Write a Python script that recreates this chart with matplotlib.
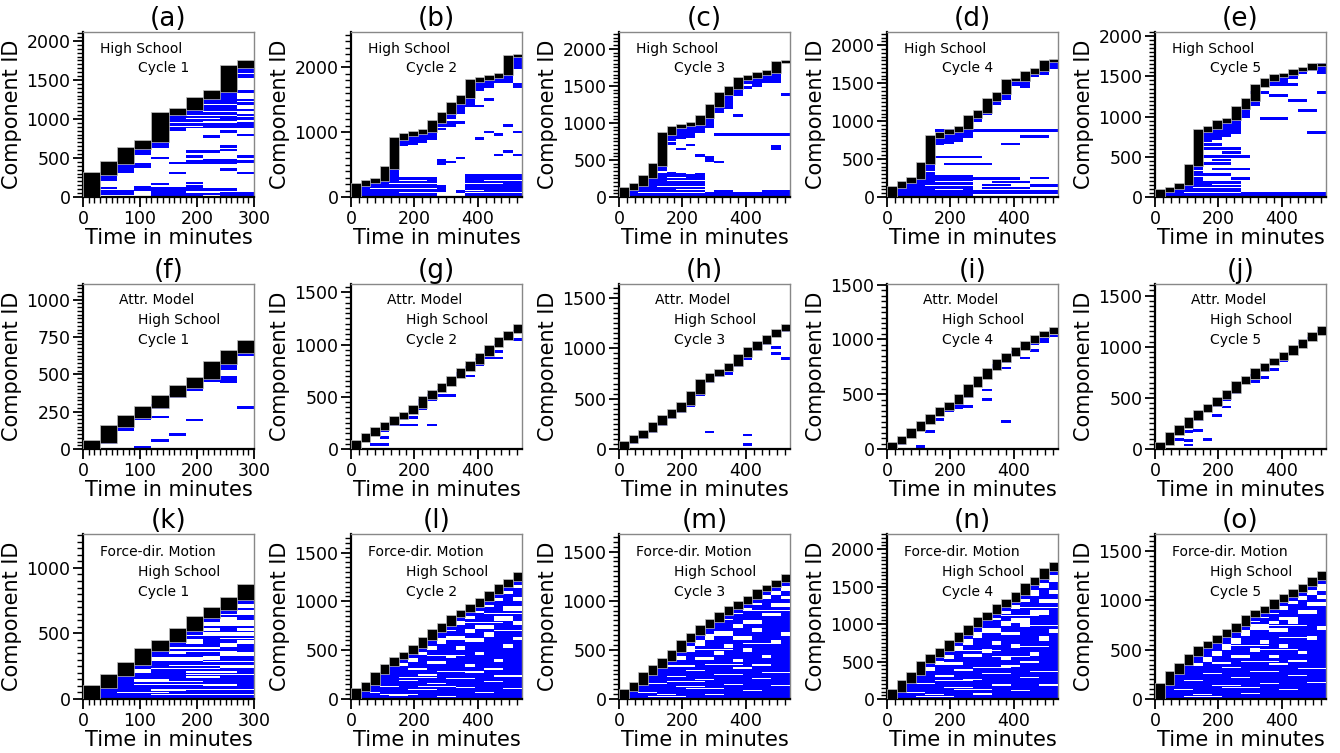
import matplotlib
matplotlib.use("Agg")
import matplotlib.pyplot as plt
from matplotlib.patches import Rectangle
from matplotlib.ticker import MultipleLocator

BIN = 30  # minutes per time bin

# cumulative component count at the end of every 30-minute bin (top of black block)
tops_a = [305, 440, 626, 716, 1069, 1129, 1270, 1359, 1674, 1738]
tops_b = [191, 238, 269, 450, 904, 961, 992, 1023, 1168, 1292, 1447, 1550, 1798, 1824, 1855, 1897, 2171, 2186]
tops_c = [111, 165, 276, 441, 855, 944, 971, 989, 1087, 1238, 1399, 1479, 1599, 1630, 1670, 1697, 1822, 1826]
tops_d = [131, 197, 249, 446, 801, 845, 875, 919, 1063, 1129, 1282, 1370, 1540, 1549, 1637, 1680, 1794, 1807]
tops_e = [82, 114, 163, 396, 824, 865, 939, 971, 1114, 1212, 1388, 1461, 1514, 1531, 1580, 1600, 1649, 1657]
tops_f = [52, 153, 216, 281, 355, 420, 476, 580, 652, 724]
tops_g = [75, 140, 195, 245, 300, 345, 405, 490, 555, 615, 690, 760, 830, 905, 985, 1060, 1120, 1185]
tops_h = [70, 125, 180, 250, 320, 385, 450, 560, 680, 740, 785, 840, 930, 1000, 1060, 1120, 1180, 1230]
tops_i = [55, 110, 180, 240, 310, 370, 420, 490, 580, 650, 730, 810, 865, 915, 975, 1030, 1065, 1100]
tops_j = [55, 150, 220, 300, 370, 430, 500, 560, 650, 700, 780, 830, 880, 935, 1000, 1065, 1130, 1190]
tops_k = [94, 182, 271, 375, 443, 532, 625, 691, 765, 868]
tops_l = [100, 160, 265, 350, 420, 470, 540, 620, 700, 760, 850, 900, 960, 1020, 1090, 1160, 1220, 1285]
tops_m = [90, 160, 260, 330, 400, 490, 590, 660, 740, 800, 870, 930, 980, 1030, 1110, 1150, 1200, 1260]
tops_n = [110, 230, 340, 495, 584, 664, 774, 872, 973, 1075, 1150, 1248, 1319, 1407, 1535, 1615, 1726, 1814]
tops_o = [152, 270, 354, 448, 529, 580, 640, 698, 758, 843, 887, 927, 1001, 1051, 1102, 1156, 1223, 1281]

# returning components: (first bin, last bin, lowest ID, highest ID)
blue_a = [(1, 1, 220, 300), (1, 1, 115, 115), (1, 1, 72, 72), (1, 1, 45, 45),
          (2, 2, 330, 440), (2, 2, 390, 390), (2, 2, 72, 72), (2, 2, 38, 38),
          (3, 3, 550, 626), (3, 3, 420, 420), (3, 3, 390, 390), (3, 3, 128, 128), (3, 3, 94, 94),
          (4, 4, 650, 716), (4, 4, 500, 500), (4, 4, 166, 166), (4, 4, 0, 115),
          (5, 5, 860, 1069), (5, 5, 435, 435), (5, 5, 307, 307), (5, 5, 106, 106), (5, 5, 30, 72),
          (6, 6, 900, 1129), (6, 6, 583, 583), (6, 6, 520, 520), (6, 6, 440, 460), (6, 6, 180, 180),
          (6, 6, 136, 136), (6, 6, 94, 94), (6, 6, 30, 30),
          (7, 7, 1115, 1270), (7, 7, 900, 1070), (7, 7, 775, 775), (7, 7, 583, 583), (7, 7, 435, 464),
          (7, 7, 94, 94), (7, 7, 38, 38),
          (8, 8, 1115, 1350), (8, 8, 900, 1070), (8, 8, 840, 840), (8, 8, 647, 647), (8, 8, 604, 604),
          (8, 8, 435, 475), (8, 8, 350, 350), (8, 8, 94, 94), (8, 8, 10, 50),
          (9, 9, 1540, 1650), (9, 9, 1350, 1350), (9, 9, 1245, 1245), (9, 9, 1200, 1200), (9, 9, 1115, 1115),
          (9, 9, 1050, 1050), (9, 9, 1010, 1010), (9, 9, 945, 945), (9, 9, 900, 900), (9, 9, 796, 796),
          (9, 9, 520, 520), (9, 9, 456, 456), (9, 9, 307, 307), (9, 9, 10, 50)]
blue_b = [(1, 1, 0, 185), (2, 2, 0, 232), (3, 3, 0, 262), (4, 4, 0, 300), (4, 4, 320, 440),
          (5, 8, 0, 120), (5, 8, 135, 290), (5, 5, 800, 900), (6, 6, 820, 955), (7, 7, 850, 985),
          (8, 8, 900, 1015), (9, 9, 1100, 1165), (9, 9, 1050, 1050), (9, 9, 560, 560), (9, 9, 520, 520),
          (9, 9, 90, 165), (10, 10, 1220, 1285), (10, 10, 1150, 1150), (10, 10, 1100, 1100), (10, 10, 540, 540),
          (11, 11, 1300, 1440), (11, 11, 1150, 1150), (11, 11, 600, 600), (11, 11, 80, 80),
          (12, 12, 1400, 1545), (12, 17, 0, 150), (12, 17, 170, 330), (13, 13, 1650, 1780), (13, 13, 1400, 1400),
          (13, 13, 900, 900), (14, 14, 1700, 1810), (14, 14, 1500, 1500), (14, 14, 1000, 1000),
          (15, 15, 1780, 1850), (15, 15, 960, 960), (15, 15, 650, 650), (16, 16, 1780, 1890), (16, 16, 1100, 1100),
          (16, 16, 700, 700), (17, 17, 2000, 2150), (17, 17, 1730, 1730), (17, 17, 1700, 1700),
          (17, 17, 1000, 1000), (17, 17, 650, 650)]
blue_c = [(1, 1, 0, 108), (2, 2, 0, 160), (3, 3, 0, 270), (4, 4, 0, 440), (5, 5, 0, 320), (6, 6, 0, 300),
          (7, 7, 0, 290), (8, 8, 0, 300), (5, 5, 780, 855), (6, 6, 800, 940), (7, 7, 820, 970), (8, 8, 880, 985),
          (9, 9, 950, 1085), (10, 10, 1150, 1235), (11, 11, 1200, 1395), (12, 12, 1380, 1475),
          (13, 13, 1540, 1595), (14, 14, 1530, 1625), (15, 15, 1550, 1665), (16, 16, 1560, 1690),
          (5, 5, 720, 720), (6, 6, 650, 650), (7, 7, 700, 700), (8, 8, 560, 560), (10, 17, 842, 842),
          (9, 9, 490, 540), (10, 10, 470, 470), (12, 12, 1100, 1100), (11, 11, 1200, 1200),
          (17, 17, 1380, 1380), (16, 16, 650, 680), (13, 13, 1480, 1480), (14, 14, 1500, 1500),
          (9, 17, 20, 45), (10, 11, 70, 70), (15, 17, 80, 80)]
blue_d = [(1, 1, 0, 128), (2, 2, 0, 195), (3, 3, 0, 245), (4, 4, 0, 260), (4, 4, 280, 440),
          (5, 8, 0, 130), (5, 8, 150, 270), (5, 5, 700, 790), (6, 6, 720, 840), (7, 7, 740, 870), (8, 8, 800, 915),
          (9, 9, 1000, 1060), (10, 10, 1100, 1125), (11, 11, 1230, 1280), (12, 12, 1300, 1365),
          (13, 13, 1480, 1540), (14, 14, 1450, 1545), (15, 15, 1600, 1635), (16, 16, 1620, 1675),
          (17, 17, 1700, 1790), (5, 17, 875, 875), (5, 9, 525, 525), (6, 10, 437, 437),
          (9, 17, 60, 70), (10, 14, 120, 120), (10, 12, 160, 160), (11, 14, 200, 200), (9, 13, 240, 240),
          (15, 17, 150, 150), (15, 16, 250, 250), (12, 13, 700, 700), (14, 16, 800, 800)]
blue_e = [(1, 1, 0, 80), (2, 2, 0, 112), (3, 3, 0, 160), (4, 4, 0, 390), (5, 8, 0, 180),
          (5, 5, 700, 820), (6, 6, 720, 860), (7, 7, 760, 935), (8, 8, 800, 965), (9, 9, 1000, 1110),
          (10, 10, 1150, 1210), (11, 11, 1380, 1385), (12, 12, 1400, 1460), (13, 13, 1440, 1510),
          (14, 14, 1480, 1530), (15, 15, 1550, 1578), (16, 16, 1580, 1598), (17, 17, 1550, 1645),
          (5, 8, 600, 600), (5, 9, 500, 500), (5, 7, 420, 420), (6, 9, 350, 350), (9, 17, 20, 40),
          (5, 6, 650, 650), (7, 8, 550, 550), (5, 7, 280, 280), (8, 9, 230, 230), (6, 7, 460, 460),
          (11, 13, 980, 980), (14, 15, 1200, 1200), (16, 17, 800, 800), (12, 13, 1260, 1260),
          (10, 11, 1300, 1300), (13, 14, 1400, 1400), (15, 16, 1080, 1080), (17, 17, 1300, 1300)]
blue_f = [(1, 1, 45, 45), (2, 2, 130, 150), (3, 3, 200, 215), (3, 3, 10, 10), (4, 4, 280, 290),
          (4, 4, 215, 215), (4, 4, 55, 55), (5, 5, 350, 360), (5, 5, 95, 95), (6, 6, 400, 415),
          (6, 6, 195, 195), (7, 7, 460, 470), (8, 8, 540, 580), (8, 8, 480, 480), (8, 8, 450, 470),
          (9, 9, 630, 645), (9, 9, 280, 280)]
blue_g = [(2, 2, 140, 140), (2, 3, 45, 45), (3, 3, 180, 180), (3, 3, 110, 110), (4, 4, 230, 240),
          (5, 5, 290, 290), (5, 6, 230, 230), (6, 6, 350, 350), (6, 6, 300, 300), (7, 7, 420, 470),
          (7, 7, 390, 390), (8, 8, 510, 510), (8, 8, 470, 470), (8, 8, 230, 230), (9, 9, 560, 560),
          (9, 10, 510, 510), (10, 10, 620, 620), (11, 11, 690, 720), (12, 12, 780, 780), (12, 12, 700, 700),
          (13, 13, 860, 860), (13, 13, 810, 810), (14, 14, 910, 930), (14, 15, 870, 870),
          (15, 15, 990, 990), (15, 15, 930, 930), (16, 16, 1060, 1060), (17, 17, 1130, 1130),
          (17, 17, 1050, 1050)]
blue_h = [(1, 1, 60, 60), (2, 2, 110, 120), (3, 3, 170, 175), (4, 4, 240, 245), (5, 5, 310, 315),
          (6, 6, 375, 380), (7, 7, 430, 445), (8, 8, 540, 555), (9, 9, 670, 675), (9, 9, 170, 170),
          (10, 10, 730, 735), (11, 11, 750, 750), (12, 12, 830, 835), (13, 13, 900, 920),
          (13, 13, 140, 140), (13, 13, 45, 45), (14, 14, 990, 995), (15, 15, 1050, 1055),
          (16, 16, 1010, 1010), (16, 16, 950, 950), (17, 17, 1170, 1175), (17, 17, 900, 900)]
blue_i = [(1, 1, 45, 55), (3, 3, 20, 20), (4, 4, 240, 240), (4, 4, 160, 160), (5, 5, 270, 270),
          (6, 6, 350, 350), (7, 7, 400, 400), (7, 7, 380, 380), (8, 8, 480, 480), (8, 8, 390, 390),
          (9, 9, 575, 580), (10, 10, 540, 540), (10, 10, 450, 450), (11, 11, 740, 760), (12, 12, 800, 800),
          (12, 12, 740, 740), (12, 12, 250, 250), (13, 13, 860, 880), (14, 14, 920, 920), (14, 14, 830, 830),
          (15, 15, 960, 960), (15, 15, 900, 900), (16, 16, 1000, 1000), (16, 16, 980, 980),
          (17, 17, 1070, 1070), (17, 17, 1030, 1030)]
blue_j = [(1, 1, 50, 50), (2, 2, 150, 150), (2, 2, 90, 90), (3, 3, 220, 220), (3, 3, 170, 170),
          (3, 3, 80, 80), (3, 3, 40, 40), (4, 4, 290, 290), (4, 4, 180, 180), (5, 5, 90, 90),
          (6, 6, 420, 420), (6, 6, 330, 330), (7, 7, 480, 480), (7, 7, 410, 410), (8, 8, 550, 550),
          (10, 10, 720, 720), (10, 10, 660, 660), (11, 11, 770, 770), (11, 11, 700, 700), (12, 12, 780, 780),
          (13, 13, 860, 860), (14, 14, 940, 940), (15, 15, 1040, 1040), (16, 16, 1080, 1080),
          (17, 17, 1150, 1150)]
blue_k = [(1, 1, 0, 90), (2, 2, 0, 170), (3, 3, 0, 265), (4, 4, 0, 370), (5, 5, 0, 440), (6, 6, 0, 530),
          (7, 7, 0, 620), (8, 8, 0, 690), (9, 9, 0, 760)]
blue_l = [(1, 1, 0, 95), (2, 2, 0, 155), (3, 3, 0, 260), (4, 4, 0, 345), (5, 5, 0, 415), (6, 6, 0, 465),
          (7, 7, 0, 535), (8, 8, 0, 615), (9, 9, 0, 695), (10, 10, 0, 755), (11, 11, 0, 845), (12, 12, 0, 895),
          (13, 13, 0, 955), (14, 14, 0, 1015), (15, 15, 0, 1085), (16, 16, 0, 1155), (17, 17, 0, 1215)]
blue_m = [(1, 1, 0, 85), (2, 2, 0, 155), (3, 3, 0, 255), (4, 4, 0, 325), (5, 5, 0, 395), (6, 6, 0, 485),
          (7, 7, 0, 585), (8, 8, 0, 655), (9, 9, 0, 735), (10, 10, 0, 795), (11, 11, 0, 865), (12, 12, 0, 925),
          (13, 13, 0, 975), (14, 14, 0, 1025), (15, 15, 0, 1105), (16, 16, 0, 1145), (17, 17, 0, 1195)]
blue_n = [(1, 1, 0, 105), (2, 2, 0, 225), (3, 3, 0, 335), (4, 4, 0, 490), (5, 5, 0, 580), (6, 6, 0, 660),
          (7, 7, 0, 770), (8, 8, 0, 868), (9, 9, 0, 968), (10, 10, 0, 1070), (11, 11, 0, 1145),
          (12, 12, 0, 1243), (13, 13, 0, 1315), (14, 14, 0, 1400), (15, 15, 0, 1530), (16, 16, 0, 1610),
          (17, 17, 0, 1720)]
blue_o = [(1, 1, 0, 148), (2, 2, 0, 265), (3, 3, 0, 350), (4, 4, 0, 444), (5, 5, 0, 525), (6, 6, 0, 576),
          (7, 7, 0, 636), (8, 8, 0, 694), (9, 9, 0, 754), (10, 10, 0, 838), (11, 11, 0, 883),
          (12, 12, 0, 923), (13, 13, 0, 997), (14, 14, 0, 1047), (15, 15, 0, 1098), (16, 16, 0, 1152),
          (17, 17, 0, 1219)]

# white gaps inside the dense blue areas: (first bin, last bin, low, high)
gaps_a = [(5, 8, 950, 960), (5, 7, 1000, 1010), (7, 8, 1180, 1190), (8, 8, 1250, 1262), (9, 9, 1580, 1590),
          (6, 8, 1040, 1050), (7, 8, 960, 975), (5, 6, 900, 910), (5, 5, 1030, 1040)]
gaps_b = [(1, 4, 40, 50), (2, 8, 120, 135), (3, 8, 200, 212), (5, 8, 60, 70), (12, 17, 60, 75),
          (12, 15, 200, 215), (14, 17, 250, 265), (12, 13, 100, 110), (5, 7, 250, 260)]
gaps_c = [(2, 8, 60, 72), (4, 8, 140, 155), (5, 8, 220, 235), (4, 4, 330, 345), (6, 8, 100, 110),
          (5, 6, 260, 270)]
gaps_d = [(2, 8, 60, 72), (4, 8, 140, 152), (5, 8, 200, 212), (5, 7, 90, 100), (4, 4, 330, 345)]
gaps_e = [(3, 8, 50, 60), (4, 8, 110, 120), (4, 4, 250, 265), (6, 8, 150, 160), (4, 4, 320, 330)]
gaps_k = [(3, 3, 200, 240), (3, 4, 130, 150), (4, 6, 290, 320), (4, 5, 60, 75), (5, 7, 380, 400),
          (6, 9, 480, 510), (7, 9, 560, 600), (5, 9, 250, 262), (8, 9, 640, 680), (6, 7, 160, 175),
          (8, 9, 330, 360), (7, 8, 100, 115), (9, 9, 420, 450), (4, 9, 30, 40), (6, 8, 200, 215),
          (5, 5, 340, 360), (6, 6, 420, 460), (7, 7, 300, 330), (7, 7, 520, 545), (8, 8, 400, 430),
          (8, 8, 600, 625), (9, 9, 690, 730), (9, 9, 520, 545), (5, 6, 130, 140), (8, 9, 240, 250),
          (2, 4, 45, 53), (5, 9, 70, 78), (3, 6, 110, 118), (6, 9, 180, 188), (4, 7, 230, 238),
          (7, 9, 280, 288), (5, 8, 355, 363), (8, 9, 455, 463)]
gaps_l = [(2, 2, 60, 75), (3, 4, 120, 135), (4, 5, 30, 40), (5, 6, 180, 195), (6, 8, 90, 100),
          (7, 8, 240, 255), (8, 9, 150, 165), (9, 10, 20, 30), (10, 12, 200, 215), (11, 12, 110, 120),
          (12, 13, 270, 285), (13, 14, 60, 70), (14, 15, 170, 185), (15, 17, 230, 245), (16, 17, 100, 115),
          (4, 4, 300, 330), (5, 5, 340, 380), (6, 6, 380, 420), (6, 7, 300, 320), (7, 7, 450, 500),
          (8, 8, 500, 540), (8, 9, 360, 390), (9, 9, 560, 620), (10, 10, 420, 450), (10, 11, 600, 650),
          (11, 11, 500, 540), (12, 12, 330, 360), (12, 13, 580, 620), (13, 13, 450, 480), (14, 14, 640, 690),
          (15, 15, 380, 410), (16, 16, 520, 560), (17, 17, 600, 640), (14, 15, 300, 320),
          (9, 9, 660, 690), (10, 10, 700, 740), (11, 11, 760, 820), (12, 12, 820, 870), (13, 13, 880, 930),
          (13, 14, 720, 760), (14, 14, 940, 990), (15, 15, 1000, 1060), (15, 16, 800, 850),
          (16, 16, 1080, 1130), (16, 17, 900, 950), (17, 17, 1140, 1200), (17, 17, 1000, 1040),
          (12, 12, 680, 720), (15, 15, 1090, 1100), (17, 17, 760, 800),
          (3, 6, 45, 52), (7, 10, 125, 132), (5, 8, 215, 222), (9, 12, 275, 282), (11, 14, 395, 402),
          (13, 16, 520, 527), (15, 17, 700, 707), (8, 11, 440, 447), (12, 15, 780, 787), (14, 17, 870, 877)]
gaps_m = [(2, 3, 60, 70), (3, 4, 150, 165), (4, 5, 40, 50), (5, 6, 220, 235), (6, 8, 120, 130),
          (7, 8, 280, 295), (8, 9, 190, 205), (9, 10, 40, 50), (10, 12, 240, 255), (11, 12, 140, 150),
          (12, 13, 310, 325), (13, 14, 80, 90), (14, 15, 200, 215), (15, 17, 260, 275), (16, 17, 130, 145),
          (4, 4, 270, 300), (5, 5, 330, 370), (6, 6, 400, 450), (6, 7, 330, 350), (7, 7, 480, 540),
          (8, 8, 540, 600), (8, 9, 400, 430), (9, 9, 600, 660), (10, 10, 450, 490), (10, 11, 640, 690),
          (11, 11, 520, 560), (12, 12, 380, 410), (12, 13, 600, 640), (13, 13, 480, 520), (14, 14, 680, 720),
          (15, 15, 420, 450), (16, 16, 560, 600), (17, 17, 640, 680), (14, 15, 340, 360),
          (9, 9, 690, 720), (10, 10, 740, 780), (11, 11, 800, 850), (12, 12, 860, 910), (13, 13, 900, 950),
          (13, 14, 760, 800), (14, 14, 960, 1010), (15, 15, 1020, 1080), (15, 16, 840, 880),
          (16, 16, 1060, 1120), (16, 17, 940, 980), (17, 17, 1100, 1170), (17, 17, 1020, 1050),
          (12, 12, 720, 760),
          (3, 6, 25, 32), (7, 10, 105, 112), (5, 8, 175, 182), (9, 12, 350, 357), (11, 14, 465, 472),
          (13, 16, 560, 567), (15, 17, 760, 767), (8, 11, 500, 507), (12, 15, 820, 827), (14, 17, 900, 907)]
gaps_n = [(2, 3, 80, 95), (3, 4, 200, 220), (4, 5, 50, 65), (5, 6, 300, 320), (6, 8, 150, 165),
          (7, 8, 380, 400), (8, 9, 250, 270), (9, 10, 60, 75), (10, 12, 330, 350), (11, 12, 180, 195),
          (12, 13, 430, 450), (13, 14, 110, 125), (14, 15, 280, 300), (15, 17, 360, 380), (16, 17, 180, 200),
          (4, 4, 380, 430), (5, 5, 450, 510), (6, 6, 540, 600), (6, 7, 460, 490), (7, 7, 640, 720),
          (8, 8, 720, 800), (8, 9, 560, 600), (9, 9, 820, 900), (10, 10, 620, 670), (10, 11, 880, 950),
          (11, 11, 720, 780), (12, 12, 520, 570), (12, 13, 850, 900), (13, 13, 680, 730),
          (14, 14, 960, 1030), (15, 15, 580, 630), (16, 16, 780, 840), (17, 17, 880, 940),
          (14, 15, 480, 510), (9, 9, 940, 960), (10, 10, 1000, 1050), (11, 11, 1060, 1120),
          (12, 12, 1140, 1210), (13, 13, 1200, 1270), (13, 14, 1020, 1080), (14, 14, 1300, 1370),
          (15, 15, 1380, 1460), (15, 16, 1120, 1190), (16, 16, 1480, 1560), (16, 17, 1280, 1340),
          (17, 17, 1560, 1660), (17, 17, 1400, 1450), (12, 12, 980, 1040), (15, 15, 1500, 1515),
          (3, 6, 30, 40), (7, 10, 120, 130), (5, 8, 240, 250), (9, 12, 420, 430), (11, 14, 560, 570),
          (13, 16, 700, 710), (15, 17, 980, 990), (8, 11, 640, 650), (12, 15, 1110, 1120), (14, 17, 1220, 1230)]
gaps_o = [(2, 3, 90, 105), (3, 4, 180, 195), (4, 5, 40, 50), (5, 6, 250, 265), (6, 8, 130, 140),
          (7, 8, 310, 325), (8, 9, 210, 225), (9, 10, 50, 60), (10, 12, 270, 285), (11, 12, 150, 160),
          (12, 13, 350, 365), (13, 14, 90, 100), (14, 15, 230, 245), (15, 17, 300, 315), (16, 17, 160, 175),
          (4, 4, 330, 370), (5, 5, 380, 430), (6, 6, 440, 490), (6, 7, 360, 380), (7, 7, 500, 560),
          (8, 8, 560, 620), (8, 9, 420, 450), (9, 9, 640, 700), (10, 10, 480, 520), (10, 11, 700, 760),
          (11, 11, 560, 600), (12, 12, 420, 450), (12, 13, 680, 720), (13, 13, 520, 560),
          (14, 14, 760, 810), (15, 15, 460, 490), (16, 16, 600, 640), (17, 17, 700, 740),
          (14, 15, 380, 400), (10, 10, 780, 810), (11, 11, 820, 860), (12, 12, 860, 900),
          (13, 13, 900, 960), (13, 14, 800, 830), (14, 14, 960, 1020), (15, 15, 1000, 1070),
          (15, 16, 860, 900), (16, 16, 1060, 1120), (16, 17, 940, 980), (17, 17, 1100, 1180),
          (17, 17, 1020, 1060), (12, 12, 760, 790),
          (3, 6, 20, 27), (7, 10, 115, 122), (5, 8, 190, 197), (9, 12, 380, 387), (11, 14, 500, 507),
          (13, 16, 620, 627), (15, 17, 820, 827), (8, 11, 540, 547), (12, 15, 740, 747), (14, 17, 930, 937)]

letters = "abcdefghijklmno"
tops = [tops_a, tops_b, tops_c, tops_d, tops_e, tops_f, tops_g, tops_h, tops_i, tops_j,
        tops_k, tops_l, tops_m, tops_n, tops_o]
blues = [blue_a, blue_b, blue_c, blue_d, blue_e, blue_f, blue_g, blue_h, blue_i, blue_j,
         blue_k, blue_l, blue_m, blue_n, blue_o]
gaps = [gaps_a, gaps_b, gaps_c, gaps_d, gaps_e, [], [], [], [], [],
        gaps_k, gaps_l, gaps_m, gaps_n, gaps_o]
ymax = [2115, 2543, 2227, 2175, 2053, 1105, 1579, 1638, 1506, 1613, 1258, 1690, 1679, 2203, 1675]
ystep = [500, 1000, 500, 500, 500, 250, 500, 500, 500, 500, 500, 500, 500, 500, 500]
row_titles = [["High School"], ["Attr. Model", "High School"], ["Force-dir. Motion", "High School"]]

fig = plt.figure(figsize=(13.4, 7.53), dpi=100)
col_left = [83, 351, 619, 887, 1155]
row_top = [32, 284, 534]
W, H = 171, 165

for k in range(15):
    r, c = divmod(k, 5)
    ax = fig.add_axes([col_left[c] / 1340, 1 - (row_top[r] + H) / 753, W / 1340, H / 753])
    t = tops[k]
    xmax = len(t) * BIN
    lh = ymax[k] * 0.016  # drawn thickness of one component line
    edges = [0] + t
    for b0, b1, lo, hi in blues[k]:
        ax.add_patch(Rectangle((b0 * BIN, lo - lh / 2), (b1 - b0 + 1) * BIN, hi - lo + lh,
                               color="#0000ff", lw=0, zorder=2))
    for b0, b1, lo, hi in gaps[k]:
        for b in range(b0, b1 + 1):
            top = edges[b] - 2 * lh
            if lo < top:
                ax.add_patch(Rectangle((b * BIN, lo), BIN, min(hi, top) - lo, color="white", lw=0, zorder=3))
    for i in range(len(t)):
        ax.add_patch(Rectangle((i * BIN, edges[i] - lh / 2), BIN, edges[i + 1] - edges[i] + lh,
                               facecolor="black", edgecolor="#c0c0c0", lw=0.5, zorder=4))

    ax.set_xlim(0, xmax)
    ax.set_ylim(0, ymax[k])
    ax.xaxis.set_major_locator(MultipleLocator(100 if xmax == 300 else 200))
    ax.xaxis.set_minor_locator(MultipleLocator(10 if xmax == 300 else 25))
    ax.yaxis.set_major_locator(MultipleLocator(ystep[k]))
    ax.yaxis.set_minor_locator(MultipleLocator(ystep[k] / 10))
    ax.tick_params(which="major", direction="out", length=7, width=1.3, labelsize=12.5, pad=2)
    ax.tick_params(which="minor", direction="out", length=4.5, width=1.0)
    ax.tick_params(top=False, right=False)
    for side in ["left", "bottom"]:
        ax.spines[side].set_color("black")
        ax.spines[side].set_linewidth(1.6)
    for side in ["top", "right"]:
        ax.spines[side].set_color("#888888")
        ax.spines[side].set_linewidth(1.0)

    ax.set_title("(%s)" % letters[k], fontsize=19, pad=3)
    ax.set_xlabel("Time in minutes", fontsize=15, labelpad=0)
    ax.set_ylabel("Component ID", fontsize=15, labelpad=3)

    lines = row_titles[r] + ["Cycle %d" % (c + 1)]
    if r == 0:
        pos = [(0.10, 0.90), (0.32, 0.78)]
    elif r == 1:
        pos = [(0.21, 0.90), (0.32, 0.78), (0.32, 0.66)]
    else:
        pos = [(0.10, 0.89), (0.32, 0.77), (0.32, 0.65)]
    for (px, py), s in zip(pos, lines):
        ax.text(px, py, s, transform=ax.transAxes, fontsize=10, va="center", ha="left", zorder=5)

fig.savefig("out.png", dpi=100)
